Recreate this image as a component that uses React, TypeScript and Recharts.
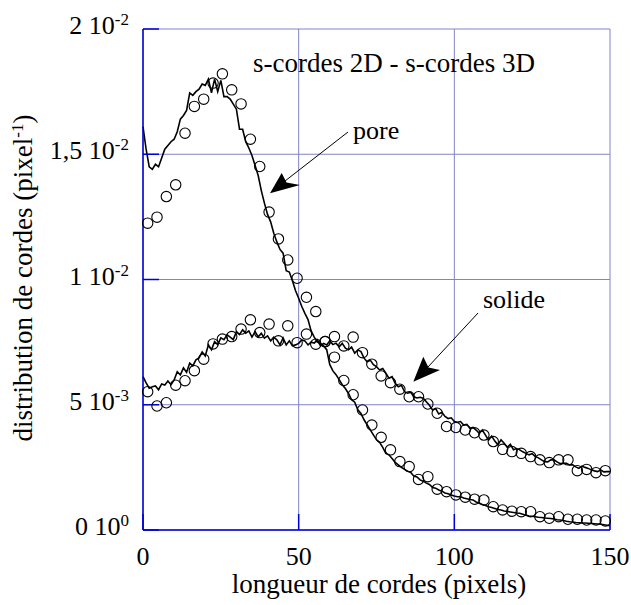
import React from 'react';
import { ComposedChart, Line, Scatter, XAxis, YAxis, CartesianGrid } from 'recharts';

// chord length (pixels) sampling of the 2D curves
const LINE_X: number[] = Array.from({ length: 151 }, (_, i) => i);

// values in units of 1e-3 pixel^-1
const PORE_2D = [
  16.1, 15.2, 14.5, 14.4, 14.6, 14.5, 14.85, 15.2, 15.35, 15.5,
  15.6, 15.9, 16.4, 16.55, 16.75, 17.45, 17.35, 17.5, 17.6, 17.8,
  17.75, 18.0, 17.45, 18.0, 17.5, 17.95, 17.3, 17.3, 17.2, 17.0,
  16.8, 16.0, 16.0, 15.5, 15.25, 14.95, 14.55, 14.15, 13.55, 13.05,
  12.6, 12.3, 11.85, 11.5, 11.2, 11.05, 10.35, 10.3, 9.95, 9.55,
  9.25, 8.92, 8.65, 8.4, 7.95, 7.7, 7.5, 7.45, 7.35, 7.2,
  6.6, 6.35, 6.2, 6.0, 5.8, 5.65, 5.45, 5.2, 5.1, 4.8,
  4.65, 4.4, 4.2, 4.0, 3.8, 3.6, 3.5, 3.3, 3.06, 3.0,
  2.85, 2.7, 2.6, 2.5, 2.42, 2.35, 2.3, 2.15, 2.12, 2.0,
  1.95, 1.87, 1.82, 1.7, 1.67, 1.6, 1.55, 1.48, 1.45, 1.4,
  1.36, 1.33, 1.33, 1.28, 1.25, 1.22, 1.2, 1.12, 1.07, 1.02,
  0.98, 0.93, 0.9, 0.86, 0.82, 0.8, 0.76, 0.74, 0.72, 0.7,
  0.68, 0.67, 0.63, 0.59, 0.56, 0.55, 0.53, 0.51, 0.5, 0.48,
  0.47, 0.46, 0.44, 0.41, 0.4, 0.38, 0.35, 0.33, 0.32, 0.3,
  0.29, 0.28, 0.28, 0.27, 0.26, 0.25, 0.24, 0.23, 0.21, 0.19,
  0.17,
];

const SOLIDE_2D = [
  6.12, 5.87, 5.66, 5.72, 5.75, 5.6, 5.83, 5.79, 5.95, 5.8,
  5.99, 6.32, 6.19, 6.47, 6.3, 6.66, 6.55, 6.79, 6.87, 7.11,
  6.95, 7.39, 7.2, 7.52, 7.4, 7.67, 7.6, 7.79, 7.7, 7.6,
  7.92, 7.8, 7.99, 7.86, 7.95, 7.7, 7.92, 7.71, 7.85, 7.66,
  7.75, 7.55, 7.7, 7.59, 7.39, 7.67, 7.39, 7.55, 7.35, 7.39,
  7.45, 7.59, 7.55, 7.39, 7.5, 7.46, 7.59, 7.35, 7.45, 7.39,
  7.55, 7.4, 7.46, 7.31, 7.45, 7.26, 7.19, 7.3, 7.06, 7.19,
  7.12, 6.86, 6.72, 6.78, 6.6, 6.52, 6.39, 6.45, 6.26, 6.06,
  6.12, 5.86, 5.72, 5.78, 5.52, 5.46, 5.5, 5.32, 5.27, 5.3,
  5.26, 5.12, 4.98, 4.79, 4.85, 4.63, 4.7, 4.53, 4.45, 4.48,
  4.33, 4.3, 4.33, 4.19, 4.22, 4.06, 4.1, 3.99, 3.86, 3.99,
  3.79, 3.59, 3.75, 3.55, 3.4, 3.6, 3.46, 3.3, 3.42, 3.2,
  3.25, 3.2, 3.12, 3.06, 3.0, 3.05, 2.93, 2.88, 2.8, 2.73,
  2.72, 2.8, 2.8, 2.72, 2.65, 2.66, 2.66, 2.6, 2.6, 2.52,
  2.46, 2.55, 2.5, 2.46, 2.4, 2.36, 2.33, 2.4, 2.32, 2.33,
  2.33,
];

// chord length of the 3D (circle) samples
const CIRCLE_X = [
  1.5, 4.5, 7.5, 10.5, 13.5, 16.5, 19.5, 22.5, 25.5, 28.5,
  31.5, 34.5, 37.5, 40.5, 43.5, 46.5, 49.5, 52.5, 55.5, 58.5,
  61.5, 64.5, 67.5, 70.5, 73.5, 76.5, 79.5, 82.5, 85.5, 88.5,
  91.5, 94.5, 97.5, 100.5, 103.5, 106.5, 109.5, 112.5, 115.5, 118.5,
  121.5, 124.5, 127.5, 130.5, 133.5, 136.5, 139.5, 142.5, 145.5, 148.5,
];

const PORE_3D = [
  12.25, 12.49, 13.31, 13.78, 15.84, 16.91, 17.2, 17.84, 18.21, 17.57,
  17.01, 15.6, 14.51, 12.69, 11.62, 10.78, 10.05, 9.29, 8.72, 7.52,
  6.9, 5.97, 5.4, 4.79, 4.19, 3.7, 3.2, 2.73, 2.53, 2.02,
  2.13, 1.63, 1.53, 1.4, 1.31, 1.23, 1.2, 0.93, 0.8, 0.75,
  0.73, 0.73, 0.53, 0.47, 0.53, 0.43, 0.43, 0.4, 0.4, 0.36,
];

const SOLIDE_3D = [
  5.52, 4.95, 5.08, 5.78, 5.96, 6.36, 6.82, 7.43, 7.62, 7.72,
  8.02, 8.39, 7.88, 8.22, 7.55, 8.15, 7.48, 7.82, 7.42, 7.52,
  7.72, 7.35, 7.7, 7.08, 6.62, 6.15, 5.88, 5.62, 5.32, 5.32,
  5.03, 4.66, 4.13, 4.09, 3.99, 3.88, 3.79, 3.53, 3.22, 3.13,
  3.06, 2.93, 2.8, 2.69, 2.8, 2.8, 2.37, 2.42, 2.29, 2.37,
];

const UNIT = 1e-3;

const X_TICKS = [0, 50, 100, 150];
const Y_TICKS = [0, 0.005, 0.01, 0.015, 0.02];
const Y_TICK_MANT = ['0', '5', '1', '1,5', '2'];
const Y_TICK_EXP = ['0', '-3', '-2', '-2', '-2'];

const pore2D = LINE_X.map((x, i) => ({ x, y: PORE_2D[i] * UNIT }));
const solide2D = LINE_X.map((x, i) => ({ x, y: SOLIDE_2D[i] * UNIT }));
const pore3D = CIRCLE_X.map((x, i) => ({ x, y: PORE_3D[i] * UNIT }));
const solide3D = CIRCLE_X.map((x, i) => ({ x, y: SOLIDE_3D[i] * UNIT }));

const FONT = "'Liberation Serif', 'Times New Roman', Times, serif";
const FS = 26;
const FT = 27;
const SUP = 17;
const BLUE = '#0000d8';
const GRID = '#8282cc';
const TXT: React.CSSProperties = { fontFamily: FONT };

const YTick = (props: any) => {
  const { x, y, payload } = props;
  const i = Y_TICKS.findIndex((t) => Math.abs(t - payload.value) < 1e-9);
  if (i < 0) return <g />;
  return (
    <text x={x} y={y + 5} textAnchor="end" style={{ ...TXT, fontSize: FS }} fill="#000">
      <tspan>{Y_TICK_MANT[i] + ' 10'}</tspan>
      <tspan dy={-9} style={{ fontSize: SUP }}>{Y_TICK_EXP[i]}</tspan>
    </text>
  );
};

const XTick = (props: any) => {
  const { x, y, payload } = props;
  return (
    <text x={x} y={y} textAnchor="middle" style={{ ...TXT, fontSize: FS }} fill="#000">
      {String(payload.value)}
    </text>
  );
};

const NoTick = () => <g />;

const Ring = (props: any) => {
  const { cx, cy } = props;
  if (cx == null || cy == null) return <g />;
  return <circle cx={cx} cy={cy} r={5.2} fill="none" stroke="#000" strokeWidth={1.1} />;
};

export default function App() {
  return (
    <div style={{ position: 'relative', width: 631, height: 605, fontFamily: FONT }}>
      <style>{`html,body{margin:0;padding:0;overflow:hidden;background:#fff} svg text{font-family:'Liberation Serif','Times New Roman',Times,serif;}`}</style>
      <ComposedChart
        width={631}
        height={605}
        margin={{ top: 29, right: 21, bottom: 0, left: 0 }}
      >
        <CartesianGrid stroke={GRID} strokeWidth={1} />
        <XAxis
          dataKey="x"
          type="number"
          domain={[0, 150]}
          ticks={X_TICKS}
          interval={0}
          height={75}
          axisLine={{ stroke: BLUE, strokeWidth: 1.5 }}
          tickLine={{ stroke: BLUE, strokeWidth: 1.5 }}
          tickSize={-16}
          tickMargin={51}
          tick={<XTick />}
        />
        <XAxis
          xAxisId="top"
          orientation="top"
          dataKey="x"
          type="number"
          domain={[0, 150]}
          ticks={X_TICKS}
          interval={0}
          height={0}
          axisLine={{ stroke: BLUE, strokeWidth: 1.5 }}
          tickLine={{ stroke: BLUE, strokeWidth: 1.5 }}
          tickSize={-16}
          tick={<NoTick />}
        />
        <YAxis
          type="number"
          domain={[0, 0.02]}
          ticks={Y_TICKS}
          interval={0}
          width={143}
          axisLine={{ stroke: BLUE, strokeWidth: 1.5 }}
          tickLine={{ stroke: BLUE, strokeWidth: 1.5 }}
          tickSize={-16}
          tickMargin={30}
          tick={<YTick />}
        />
        <YAxis
          yAxisId="right"
          orientation="right"
          type="number"
          domain={[0, 0.02]}
          ticks={Y_TICKS}
          interval={0}
          width={0}
          axisLine={{ stroke: BLUE, strokeWidth: 1.5 }}
          tickLine={{ stroke: BLUE, strokeWidth: 1.5 }}
          tickSize={-16}
          tick={<NoTick />}
        />
        <Line data={pore2D} dataKey="y" type="linear" stroke="#000" strokeWidth={1.6} dot={false} isAnimationActive={false} />
        <Line data={solide2D} dataKey="y" type="linear" stroke="#000" strokeWidth={1.6} dot={false} isAnimationActive={false} />
        <Scatter data={pore3D} dataKey="y" shape={<Ring />} isAnimationActive={false} />
        <Scatter data={solide3D} dataKey="y" shape={<Ring />} isAnimationActive={false} />
      </ComposedChart>
      <svg
        width={631}
        height={605}
        style={{ position: 'absolute', left: 0, top: 0, pointerEvents: 'none' }}
      >
        <text x={253} y={72} style={{ ...TXT, fontSize: FT }} fill="#000">s-cordes 2D - s-cordes 3D</text>
        <text x={353} y={139} style={{ ...TXT, fontSize: FS }} fill="#000">pore</text>
        <text x={483} y={308} style={{ ...TXT, fontSize: FS }} fill="#000">solide</text>
        <line x1={348} y1={132} x2={285} y2={181} stroke="#000" strokeWidth={1} />
        <path d="M270,193.3 L281.7,173 L286.5,182.5 L300,185 Z" fill="#000" />
        <line x1={478} y1={313} x2={428} y2={367} stroke="#000" strokeWidth={1} />
        <path d="M413.3,381.7 L423.3,356.7 L428.5,367.5 L440,370 Z" fill="#000" />
        <text x={379} y={593} style={{ ...TXT, fontSize: FT }} textAnchor="middle" fill="#000">
          longueur de cordes (pixels)
        </text>
        <text
          x={32}
          y={278}
          style={{ ...TXT, fontSize: FT }}
          textAnchor="middle"
          fill="#000"
          transform="rotate(-90 32 278)"
        >
          <tspan>distribution de cordes (pixel</tspan>
          <tspan dy={-9} style={{ fontSize: SUP }}>-1</tspan>
          <tspan dy={9}>)</tspan>
        </text>
      </svg>
    </div>
  );
}
